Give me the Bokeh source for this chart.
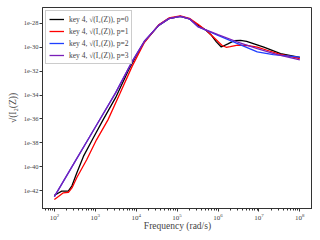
from bokeh.plotting import figure
from bokeh.layouts import row
from bokeh.models import FixedTicker, PrintfTickFormatter, Legend, LegendItem, Range1d, Spacer
from bokeh.embed import file_html
from bokeh.resources import INLINE

# log10 of frequency (rad/s) and log10 of sqrt(I2(Z))
freq_exp_p0 = [2.0, 2.1, 2.18, 2.34, 2.43, 2.55, 2.71, 2.95, 3.19, 3.5, 3.8, 4.0, 4.2, 4.55, 4.8, 5.08, 5.3, 5.52, 5.7, 5.84, 5.96, 6.08, 6.24, 6.4, 6.55, 6.7, 7.12, 7.53, 8.0]
val_exp_p0 = [-42.4, -42.2, -42.05, -42.05, -41.6, -40.5, -39.14, -37.6, -36.08, -34.2, -32.0, -30.7, -29.55, -28.17, -27.6, -27.42, -27.62, -28.17, -28.55, -29.0, -29.55, -29.98, -29.72, -29.45, -29.42, -29.5, -29.98, -30.53, -30.85]

freq_exp_p1 = [2.0, 2.1, 2.22, 2.345, 2.43, 2.55, 2.79, 3.03, 3.31, 3.6, 3.9, 4.2, 4.55, 4.8, 5.08, 5.3, 5.52, 5.75, 5.95, 6.1, 6.2, 6.3, 6.48, 6.7, 6.96, 7.2, 7.5, 8.0]
val_exp_p1 = [-42.75, -42.5, -42.19, -42.14, -41.78, -40.9, -39.42, -37.75, -36.08, -33.9, -31.6, -29.6, -28.12, -27.55, -27.37, -27.58, -28.1, -28.7, -29.35, -29.85, -30.0, -29.95, -29.82, -29.85, -29.98, -30.25, -30.58, -30.94]

freq_exp_p2 = [2.0, 2.5, 3.0, 3.5, 3.9, 4.2, 4.55, 4.8, 5.08, 5.3, 5.52, 6.0, 6.48, 6.96, 7.35, 8.0]
val_exp_p2 = [-42.5, -39.6, -36.7, -33.8, -31.2, -29.5, -28.17, -27.6, -27.42, -27.62, -28.3, -29.0, -29.69, -30.39, -30.61, -30.82]

freq_exp_p3 = [2.0, 2.5, 3.0, 3.5, 3.9, 4.2, 4.55, 4.8, 5.08, 5.3, 5.52, 6.0, 6.48, 6.96, 7.45, 8.0]
val_exp_p3 = [-42.5, -39.6, -36.7, -33.8, -31.2, -29.5, -28.17, -27.6, -27.42, -27.62, -28.3, -28.94, -29.56, -30.11, -30.61, -31.05]

series_labels = ["key 4, √(I₂(Z)), p=0", "key 4, √(I₂(Z)), p=1",
                 "key 4, √(I₂(Z)), p=2", "key 4, √(I₂(Z)), p=3"]
series_colors = ["black", "#ff0000", "#1f3fff", "#7a1fb8"]

y_ticks = [1e-42, 1e-40, 1e-38, 1e-36, 1e-34, 1e-32, 1e-30, 1e-28]
x_ticks = [1e2, 1e3, 1e4, 1e5, 1e6, 1e7, 1e8]

SERIF = "Liberation Serif"

p = figure(frame_width=270, frame_height=201, x_axis_type="log", y_axis_type="log",
           output_backend="svg", toolbar_location=None,
           x_range=Range1d(10**1.71, 10**8.31), y_range=Range1d(10**-43.5, 10**-26.67),
           min_border_left=34, min_border_right=0, min_border_top=7, min_border_bottom=0)

p.grid.visible = False
p.outline_line_color = "#333333"
p.outline_line_width = 1

renderers = []
series = [(freq_exp_p0, val_exp_p0), (freq_exp_p1, val_exp_p1),
          (freq_exp_p2, val_exp_p2), (freq_exp_p3, val_exp_p3)]
for (fx, vy), col in zip(series, series_colors):
    xs = [10 ** e for e in fx]
    ys = [10 ** e for e in vy]
    r = p.line(xs, ys, line_color=col, line_width=1.3)
    renderers.append(r)

legend = Legend(items=[LegendItem(label=l, renderers=[r]) for l, r in zip(series_labels, renderers)],
                location="top_left")
legend.label_text_font = SERIF
legend.label_text_font_size = "7.5px"
legend.glyph_width = 15
legend.glyph_height = 10
legend.label_height = 10
legend.spacing = 2
legend.padding = 3
legend.margin = 3
legend.label_standoff = 5
legend.border_line_color = "#cccccc"
legend.border_line_alpha = 1
legend.background_fill_alpha = 0.8
p.add_layout(legend)

p.xaxis.ticker = FixedTicker(ticks=x_ticks, minor_ticks=[m * 10 ** k for k in range(1, 9) for m in range(2, 10)])
p.yaxis.ticker = FixedTicker(ticks=y_ticks, minor_ticks=[])
p.yaxis.formatter = PrintfTickFormatter(format="%.0e")

for ax in (p.xaxis, p.yaxis):
    ax.major_label_text_font = SERIF
    ax.major_label_text_font_size = "7px"
    ax.axis_label_text_font = SERIF
    ax.axis_label_text_font_style = "normal"
    ax.major_tick_out = 3
    ax.major_tick_in = 0
    ax.axis_line_color = "#333333"
    ax.major_tick_line_color = "#333333"
    ax.minor_tick_line_color = "#333333"
    ax.major_label_standoff = 2

p.yaxis.major_label_text_font_size = "6.5px"
p.yaxis.major_label_standoff = 1

p.xaxis.minor_tick_out = 2
p.xaxis.minor_tick_in = 0
p.yaxis.minor_tick_out = 0
p.yaxis.minor_tick_in = 0

p.xaxis.axis_label = "Frequency (rad/s)"
p.xaxis.axis_label_text_font_size = "9.5px"
p.xaxis.axis_label_standoff = -2
p.yaxis.axis_label = "√(I₂(Z))"
p.yaxis.axis_label_text_font_size = "9.5px"
p.yaxis.axis_label_standoff = 3

layout = row(Spacer(width=4, height=10), p)
open("out.html", "w").write(file_html(layout, INLINE))
